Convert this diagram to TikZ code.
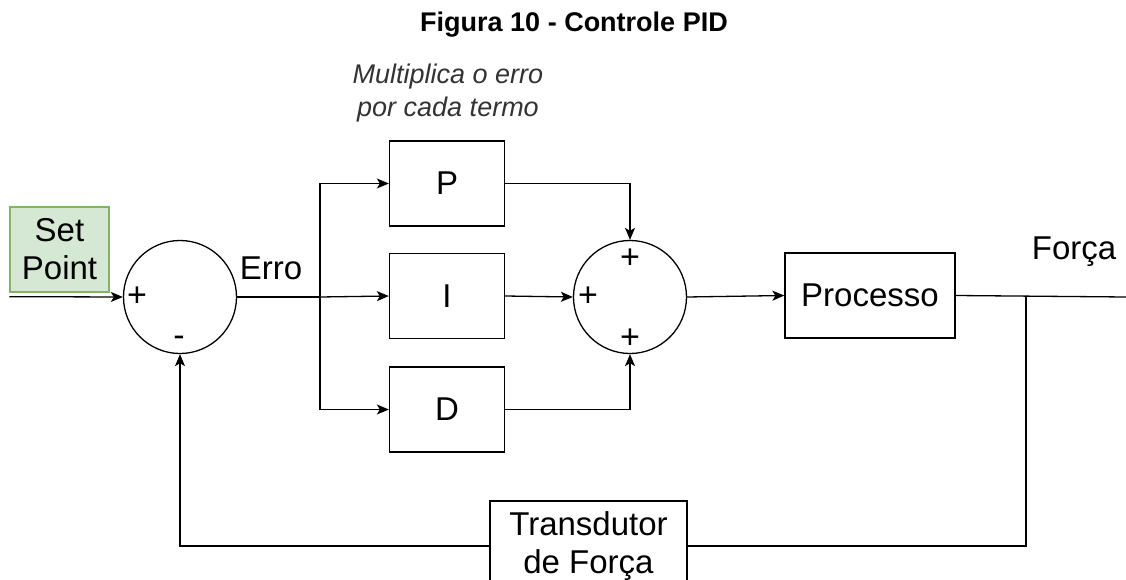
\documentclass[tikz,border=0pt]{standalone}
\usepackage{fontspec}
\setmainfont{Liberation Sans}
\usepackage{tikz}
\usetikzlibrary{arrows.meta,positioning,calc}

\definecolor{spfill}{HTML}{D5E8D4}
\definecolor{spline}{HTML}{82B366}

\tikzset{
  bloco/.style={draw,line width=1.3pt,minimum width=115pt,minimum height=85pt,inner sep=0pt,font=\fontsize{33}{38}\selectfont},
  soma/.style={draw,circle,line width=1.3pt,minimum size=113pt,inner sep=0pt},
  sinal/.style={inner sep=0pt,font=\fontsize{34}{34}\selectfont},
  rotulo/.style={inner sep=0pt,font=\fontsize{33}{38}\selectfont,align=center},
  liga/.style={line width=1.3pt},
  seta/.style={line width=1.3pt,-{Stealth[length=12pt,width=10pt,inset=3pt]}}
}

\begin{document}
\begin{tikzpicture}[x=1pt,y=-1pt]
\useasboundingbox (0,0) rectangle (1126,580);
\clip (0,0) rectangle (1126,580);
% titulo e nota
\node[inner sep=0pt,font=\fontsize{27}{30}\selectfont\bfseries] (titulo) at (574,25) {Figura 10 - Controle PID};
\node[inner sep=0pt,font=\fontsize{27}{33}\selectfont\itshape,text=black!80,align=center] (nota) at (448,93) {Multiplica o erro\\por cada termo};
% blocos
\node[rotulo,draw=spline,fill=spfill,line width=1.3pt,minimum width=99pt,minimum height=85pt] (sp) at (59.5,249.5) {Set\\Point};
\node[soma] (s1) at (180,297) {};
\node[bloco] (P) at (447,183.5) {P};
\node[bloco] (I) at (447,296) {I};
\node[bloco] (D) at (447,409.5) {D};
\node[soma] (s2) at (630,297) {};
\node[bloco,minimum width=170pt] (proc) at (870,295.5) {Processo};
\node[bloco,minimum width=197pt,minimum height=90pt,align=center] (trans) at (588.5,546) {Transdutor\\de Força};
% sinais
\node[sinal] (s1a) at (137,297) {+};
\node[sinal] (s1b) at (179,341) {-};
\node[sinal] (s2a) at (630,259) {+};
\node[sinal] (s2b) at (588,297) {+};
\node[sinal] (s2c) at (630,339) {+};
% rotulos
\node[rotulo] (erro) at (271,268) {Erro};
\node[rotulo] (forca) at (1074,252) {Força};
% pontos auxiliares
\coordinate (ini) at ($(sp.south west)+(0,4)$);
\coordinate (div) at (320,297);
\coordinate (tap) at (1026,297);
\coordinate (fim) at (1126,297);
% ligacoes
\draw[seta] (ini) -- (s1.west);
\draw[liga] (s1.east) -- (div);
\draw[seta] (div) -- (I.west);
\draw[seta] (div) |- (P.west);
\draw[seta] (div) |- (D.west);
\draw[seta] (P.east) -| (s2.north);
\draw[seta] (I.east) -- (s2.west);
\draw[seta] (D.east) -| (s2.south);
\draw[seta] (s2.east) -- (proc.west);
\draw[liga] (proc.east) -- (fim);
\draw[liga] (tap) |- (trans.east);
\draw[seta] (trans.west) -| (s1.south);
\end{tikzpicture}
\end{document}
